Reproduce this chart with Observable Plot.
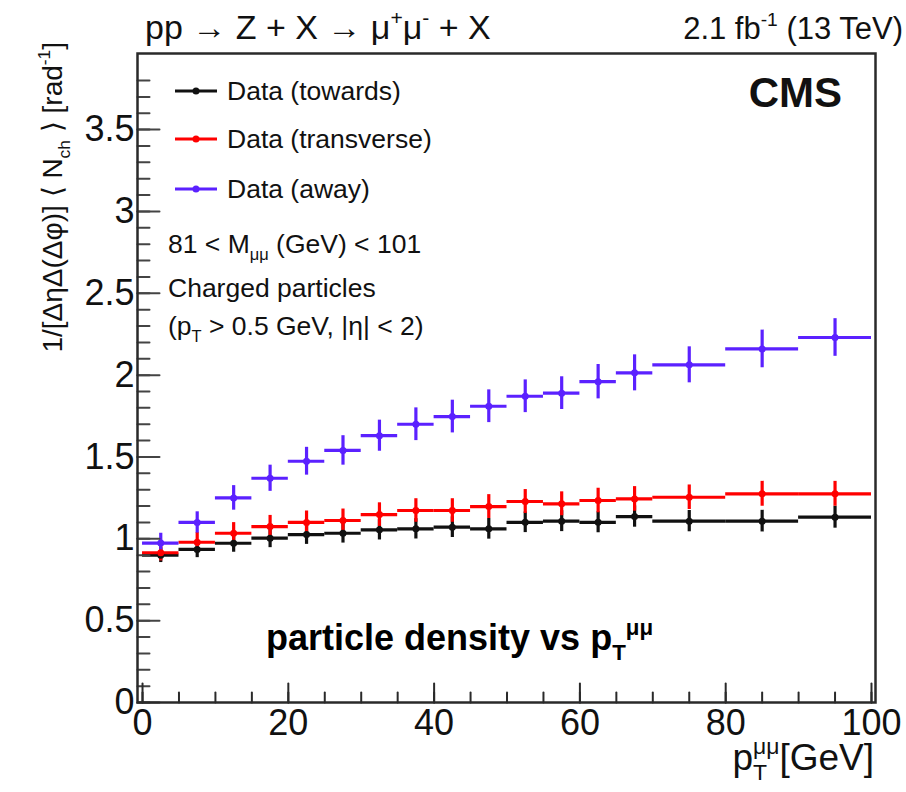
<!DOCTYPE html>
<html><head><meta charset="utf-8">
<script src="https://cdn.jsdelivr.net/npm/d3@7"></script>
<script src="https://cdn.jsdelivr.net/npm/@observablehq/plot@0.6"></script>
<style>
body{margin:0;background:#fff;}
#chart{width:906px;height:792px;}
svg{font-family:"Liberation Sans",Arial,Helvetica,sans-serif;}
</style></head><body><div id="chart"></div>
<script>
// ---- data ----
const binLow  = [0,5,10,15,20,25,30,35,40,45,50,55,60,65,70,80,90];
const binHigh = [5,10,15,20,25,30,35,40,45,50,55,60,65,70,80,90,100];
const seriesNames = ["Data (towards)","Data (transverse)","Data (away)"];
const seriesColors = ["#111111","#ff0000","#5b21ff"];
const towards    = [0.900,0.935,0.973,1.004,1.026,1.034,1.055,1.061,1.071,1.061,1.101,1.108,1.101,1.136,1.108,1.108,1.132];
const towardsErr = [0.045,0.050,0.055,0.058,0.060,0.060,0.062,0.062,0.063,0.063,0.063,0.064,0.064,0.065,0.065,0.066,0.067];
const transverse    = [0.915,0.979,1.034,1.075,1.100,1.112,1.148,1.173,1.173,1.197,1.228,1.214,1.234,1.244,1.254,1.275,1.275];
const transverseErr = [0.050,0.060,0.065,0.068,0.070,0.070,0.072,0.072,0.072,0.073,0.073,0.073,0.075,0.075,0.075,0.076,0.076];
const away    = [0.974,1.100,1.250,1.370,1.474,1.540,1.630,1.700,1.747,1.810,1.871,1.890,1.960,2.014,2.063,2.160,2.230];
const awayErr = [0.060,0.065,0.075,0.080,0.085,0.090,0.095,0.100,0.100,0.100,0.100,0.100,0.105,0.110,0.110,0.115,0.115];
const xTickLabels = [0,20,40,60,80,100];
const xMinorTicks = d3.range(0,101,5);
const yTickLabels = [0,0.5,1,1.5,2,2.5,3,3.5];
const yMinorTicks = d3.range(0,39).map(i=>i/10);

const values = [towards, transverse, away];
const errors = [towardsErr, transverseErr, awayErr];
const rows = [];
seriesNames.forEach((s,k)=>{
  binLow.forEach((lo,i)=>{
    rows.push({series:s, x1:lo, x2:binHigh[i], xc:(lo+binHigh[i])/2, y:values[k][i], err:errors[k][i]});
  });
});

const lineShape = {draw(ctx, l){ ctx.moveTo(0,0); ctx.lineTo(0,-l); }};
const axisColor = "#2a2a2a";

const plot = Plot.plot({
  width: 906, height: 792,
  marginLeft: 137, marginRight: 31, marginTop: 53, marginBottom: 90,
  x: {domain: [-0.69, 100.55]},
  y: {domain: [0, 3.965]},
  color: {domain: seriesNames, range: seriesColors},
  style: {fontFamily: '"Liberation Sans",Arial,sans-serif', background: "#fff"},
  marks: [
    Plot.ruleY(rows, {y:"y", x1:"x1", x2:"x2", stroke:"series", strokeWidth:3.2}),
    Plot.ruleX(rows, {x:"xc", y1:d=>d.y-d.err, y2:d=>d.y+d.err, stroke:"series", strokeWidth:3.2}),
    Plot.dot(rows, {x:"xc", y:"y", fill:"series", r:3.5}),
    Plot.vector(yMinorTicks, {y:d=>d, frameAnchor:"left", rotate:90, length:12, anchor:"start", shape:lineShape, stroke:"#444", strokeWidth:2}),
    Plot.vector(yTickLabels, {y:d=>d, frameAnchor:"left", rotate:90, length:22, anchor:"start", shape:lineShape, stroke:"#444", strokeWidth:2}),
    Plot.vector(xMinorTicks, {x:d=>d, frameAnchor:"bottom", rotate:0, length:10, anchor:"start", shape:lineShape, stroke:axisColor, strokeWidth:2}),
    Plot.vector(xTickLabels, {x:d=>d, frameAnchor:"bottom", rotate:0, length:19, anchor:"start", shape:lineShape, stroke:axisColor, strokeWidth:2}),
    Plot.axisX({ticks:xTickLabels, tickSize:0, tickPadding:7, fontSize:36, tickFormat:d=>String(d), label:null, fill:"#111"}),
    Plot.axisY({ticks:yTickLabels, tickSize:0, tickPadding:3, fontSize:36, tickFormat:d=>String(d), label:null, fill:"#111"}),
    Plot.frame({stroke:axisColor, strokeWidth:2.5})
  ]
});
document.getElementById("chart").appendChild(plot);

// ---- annotations ----
const svg = d3.select(plot);
const F = '"Liberation Sans",Arial,sans-serif';
function label(x, y, anchor, extra){
  const t = svg.append("text").attr("x",x).attr("y",y).attr("text-anchor",anchor)
    .attr("font-family",F).attr("fill","#111");
  if (extra) extra(t);
  return t;
}
function rich(sel, segs, fs){
  let cur = 0;
  for (const s of segs){
    const off = s.sup ? -0.42*fs : s.sub ? 0.28*fs : 0;
    const size = (s.sup||s.sub) ? fs*0.62 : fs;
    const t = sel.append("tspan").attr("dy", off-cur).attr("font-size", size).text(s.t);
    if (s.dx) t.attr("dx", s.dx);
    cur = off;
  }
  return sel;
}
// top titles
rich(label(145,39,"start"), [{t:"pp → Z + X → μ"},{t:"+",sup:true},{t:"μ"},{t:"-",sup:true},{t:" + X"}], 34);
rich(label(903,39,"end"), [{t:"2.1 fb"},{t:"-1",sup:true},{t:" (13 TeV)"}], 31);
// y axis label
rich(label(0,0,"end", t=>t.attr("transform","translate(62,42) rotate(-90)")),
  [{t:"1/[ΔηΔ(Δφ)] ⟨ N"},{t:"ch",sub:true},{t:" ⟩ [rad"},{t:"-1",sup:true},{t:"]"}], 28);
// x axis label
rich(label(874,770,"end"), [{t:"p"},{t:"T",sub:true},{t:"μμ",sup:true,dx:-0.611*37*0.62},{t:"[GeV]"}], 37);
// CMS
label(842,107,"end").attr("font-weight","bold").attr("font-size",42).text("CMS");
// legend
const legY = [91,139,189];
seriesNames.forEach((s,i)=>{
  svg.append("line").attr("x1",175).attr("x2",217).attr("y1",legY[i]).attr("y2",legY[i])
    .attr("stroke",seriesColors[i]).attr("stroke-width",3);
  svg.append("circle").attr("cx",196).attr("cy",legY[i]).attr("r",3.5).attr("fill",seriesColors[i]);
  label(227, legY[i]+9, "start").attr("font-size",26.5).text(s);
});
rich(label(168,253,"start"), [{t:"81 < M"},{t:"μμ",sub:true},{t:" (GeV) < 101"}], 26.5);
label(168,297,"start").attr("font-size",26.5).text("Charged particles");
rich(label(168,335,"start"), [{t:"(p"},{t:"T",sub:true},{t:" > 0.5 GeV, |η| < 2)"}], 26.5);
// inner annotation
rich(label(266,650,"start").attr("font-weight","bold").attr("fill","#000"),
  [{t:"particle density vs p"},{t:"T",sub:true},{t:"μμ",sup:true}], 36);
</script></body></html>
